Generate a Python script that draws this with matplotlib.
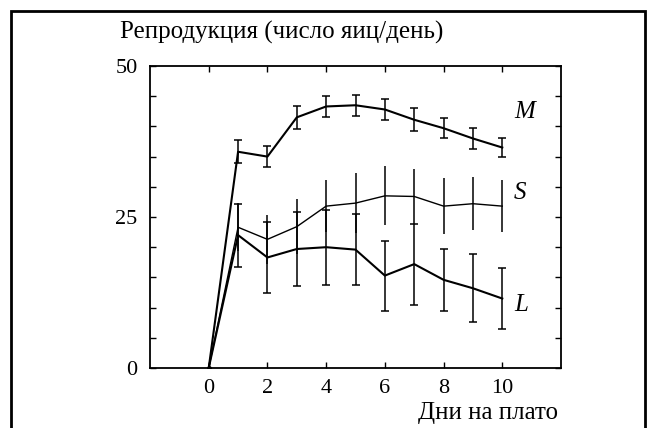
import matplotlib
matplotlib.use("Agg")
import matplotlib.pyplot as plt
from matplotlib.patches import Rectangle

days = [0, 1, 2, 3, 4, 5, 6, 7, 8, 9, 10]
M = [0, 35.8, 35.0, 41.5, 43.3, 43.5, 42.8, 41.1, 39.7, 38.0, 36.5]
M_err = [0, 1.9, 1.75, 1.9, 1.75, 1.75, 1.8, 1.9, 1.7, 1.7, 1.6]
S = [0, 23.3, 21.3, 23.4, 26.8, 27.3, 28.5, 28.4, 26.8, 27.2, 26.8]
S_err = [0, 4.0, 4.0, 4.5, 4.3, 5.0, 4.9, 4.6, 4.6, 4.4, 4.3]
L = [0, 22.0, 18.3, 19.7, 20.0, 19.6, 15.3, 17.2, 14.6, 13.2, 11.5]
L_err = [0, 5.2, 5.8, 6.1, 6.2, 5.9, 5.8, 6.7, 5.1, 5.6, 5.1]
x_ticks = [0, 2, 4, 6, 8, 10]
y_ticks = [0, 25, 50]
series_labels = ["M", "S", "L"]

plt.rcParams['font.family'] = ['Liberation Serif', 'DejaVu Serif']

fig = plt.figure(figsize=(6.56, 4.28), dpi=100)
ax = fig.add_axes([150/656, 60/428, 411/656, 302/428])

# lines
ax.plot(days, M, color='black', lw=1.5)
ax.plot(days, S, color='black', lw=1.0)
ax.plot(days, L, color='black', lw=1.5)
ax.plot([days[0]], [M[0]], 'o', color='black', ms=2.5)

# error bars (days 1..10)
ax.errorbar(days[1:], M[1:], yerr=M_err[1:], fmt='none', ecolor='black',
            elinewidth=1.1, capsize=2.6, capthick=1.1)
ax.errorbar(days[1:], S[1:], yerr=S_err[1:], fmt='none', ecolor='black',
            elinewidth=1.1, capsize=0)
ax.errorbar(days[1:], L[1:], yerr=L_err[1:], fmt='none', ecolor='black',
            elinewidth=1.1, capsize=2.6, capthick=1.1)

ax.set_xlim(-2, 12)
ax.set_ylim(0, 50)
ax.set_xticks(x_ticks)
ax.set_xticklabels([str(t) for t in x_ticks])
ax.set_yticks(list(range(0, 51, 5)))
ax.set_yticklabels([str(v) if v in y_ticks else '' for v in range(0, 51, 5)])
ax.tick_params(direction='in', length=4, width=1.0, top=True, right=True,
               labelsize=16, colors='black')
ax.tick_params(axis='y', pad=9)
ax.tick_params(axis='x', pad=8)
for sp in ax.spines.values():
    sp.set_linewidth(1.3)

# series labels
ax.text(10.4, 42.4, series_labels[0], fontsize=18, style='italic', va='center', ha='left')
ax.text(10.4, 29.0, series_labels[1], fontsize=18, style='italic', va='center', ha='left')
ax.text(10.4, 10.4, series_labels[2], fontsize=18, style='italic', va='center', ha='left')

fig.text(120/656, 1 - 32/428, "Репродукция (число яиц/день)", fontsize=18,
         ha='left', va='center')
fig.text(558/656, 1 - 413/428, "Дни на плато", fontsize=18,
         ha='right', va='center')

frame = Rectangle((11/656, -0.05), (645 - 11)/656, 1.05 - 11/428,
                  transform=fig.transFigure, fill=False, lw=2.0,
                  edgecolor='black', clip_on=False)
fig.patches.append(frame)

fig.savefig('out.png', dpi=100)
